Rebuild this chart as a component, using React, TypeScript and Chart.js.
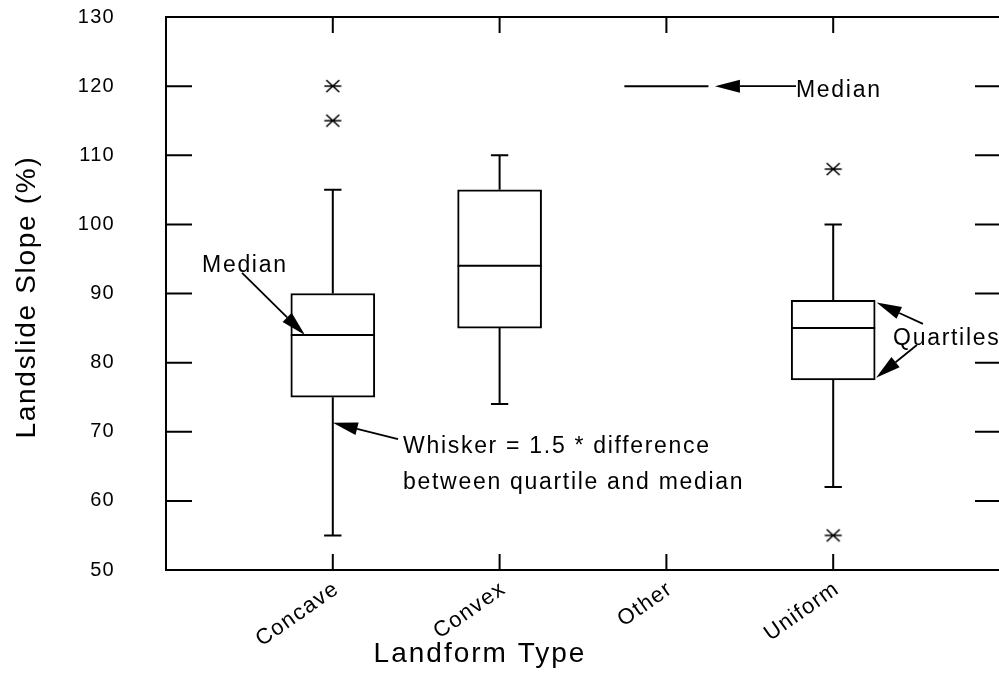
import React, { useEffect, useRef } from 'react';
import { Chart, registerables } from 'chart.js';

Chart.register(...registerables);

const FONT = '"Liberation Sans", Arial, Helvetica, sans-serif';

// ---- data ----
const categories = ['Concave', 'Convex', 'Other', 'Uniform'];
const whiskerLow: (number | null)[] = [55, 74, null, 62];
const quartile1: (number | null)[] = [75, 85, null, 77.5];
const medians: (number | null)[] = [84, 94, 120, 85];
const quartile3: (number | null)[] = [90, 105, null, 89];
const whiskerHigh: (number | null)[] = [105, 110, null, 100];

const outlierCategory = ['Concave', 'Concave', 'Uniform', 'Uniform'];
const outlierValue = [120, 115, 108, 55];

const yMin = 50;
const yMax = 130;
const yStep = 10;

// annotation texts (x in category index units, y in data units; baseline)
const noteTexts = ['Median', 'Whisker = 1.5 * difference', 'between quartile and median', 'Median', 'Quartiles'];
const noteX = [0.216, 1.421, 1.421, 3.777, 4.359];
const noteY = [93.1, 66.93, 61.72, 118.4, 82.55];

// arrows (from -> tip)
const arrowFromX = [0.456, 1.391, 3.777, 4.538, 4.502];
const arrowFromY = [92.97, 68.95, 120, 85.6, 82.55];
const arrowToX = [0.833, 1.0, 3.291, 4.26, 4.257];
const arrowToY = [84.0, 71.3, 120, 88.7, 77.8];

const xLabels = ['', ...categories, ''];

function makeStar(): HTMLCanvasElement {
  const c = document.createElement('canvas');
  c.width = 20;
  c.height = 16;
  const g = c.getContext('2d')!;
  g.strokeStyle = '#000';
  g.lineWidth = 1.6;
  g.lineCap = 'butt';
  g.beginPath();
  g.moveTo(1.5, 8);
  g.lineTo(18.5, 8);
  g.moveTo(3.5, 2);
  g.lineTo(16.5, 14);
  g.moveTo(3.5, 14);
  g.lineTo(16.5, 2);
  g.stroke();
  return c;
}

const spacingPlugin = {
  id: 'spacing',
  beforeDraw(chart: any) {
    (chart.ctx as any).letterSpacing = '1.3px';
  },
};

const boxPlugin = {
  id: 'boxExtras',
  afterDatasetsDraw(chart: any) {
    const { ctx, scales } = chart;
    const x = scales.x;
    const y = scales.y;
    ctx.save();
    ctx.strokeStyle = '#000';
    ctx.lineWidth = 2;
    categories.forEach((cat, k) => {
      const i = k + 1;
      const cx = x.getPixelForValue(i);
      const left = x.getPixelForValue(i - 0.252);
      const right = x.getPixelForValue(i + 0.252);
      const capL = x.getPixelForValue(i - 0.052);
      const capR = x.getPixelForValue(i + 0.052);
      const med = medians[k];
      if (med != null) {
        ctx.beginPath();
        ctx.moveTo(left, y.getPixelForValue(med));
        ctx.lineTo(right, y.getPixelForValue(med));
        ctx.stroke();
      }
      const q1 = quartile1[k];
      const q3 = quartile3[k];
      const lo = whiskerLow[k];
      const hi = whiskerHigh[k];
      if (q3 != null && hi != null) {
        const yh = y.getPixelForValue(hi);
        ctx.beginPath();
        ctx.moveTo(cx, y.getPixelForValue(q3));
        ctx.lineTo(cx, yh);
        ctx.moveTo(capL, yh);
        ctx.lineTo(capR, yh);
        ctx.stroke();
      }
      if (q1 != null && lo != null) {
        const yl = y.getPixelForValue(lo);
        ctx.beginPath();
        ctx.moveTo(cx, y.getPixelForValue(q1));
        ctx.lineTo(cx, yl);
        ctx.moveTo(capL, yl);
        ctx.lineTo(capR, yl);
        ctx.stroke();
      }
    });
    ctx.restore();
  },
  afterDraw(chart: any) {
    const { ctx, scales, chartArea, width } = chart;
    const x = scales.x;
    const y = scales.y;
    ctx.save();
    ctx.strokeStyle = '#000';
    ctx.fillStyle = '#000';
    ctx.lineWidth = 2;
    // frame
    ctx.beginPath();
    ctx.moveTo(width, chartArea.top);
    ctx.lineTo(chartArea.left, chartArea.top);
    ctx.lineTo(chartArea.left, chartArea.bottom);
    ctx.lineTo(width, chartArea.bottom);
    ctx.moveTo(chartArea.right, chartArea.top);
    ctx.lineTo(chartArea.right, chartArea.bottom);
    ctx.stroke();
    // inner y ticks, left and right
    ctx.beginPath();
    y.ticks.forEach((t: any) => {
      const py = y.getPixelForValue(t.value);
      ctx.moveTo(chartArea.left, py);
      ctx.lineTo(chartArea.left + 26, py);
      ctx.moveTo(chartArea.right, py);
      ctx.lineTo(chartArea.right - 25, py);
    });
    // inner x ticks, top and bottom
    categories.forEach((_c, k) => {
      const px = x.getPixelForValue(k + 1);
      ctx.moveTo(px, chartArea.top);
      ctx.lineTo(px, chartArea.top + 16);
      ctx.moveTo(px, chartArea.bottom);
      ctx.lineTo(px, chartArea.bottom - 16);
    });
    ctx.stroke();

    // arrows
    ctx.lineWidth = 1.8;
    arrowFromX.forEach((fx, k) => {
      const x1 = x.getPixelForValue(fx);
      const y1 = y.getPixelForValue(arrowFromY[k]);
      const x2 = x.getPixelForValue(arrowToX[k]);
      const y2 = y.getPixelForValue(arrowToY[k]);
      const ang = Math.atan2(y2 - y1, x2 - x1);
      const L = 25;
      const W = 6.5;
      const bx = x2 - L * Math.cos(ang);
      const by = y2 - L * Math.sin(ang);
      ctx.beginPath();
      ctx.moveTo(x1, y1);
      ctx.lineTo(bx, by);
      ctx.stroke();
      ctx.beginPath();
      ctx.moveTo(x2, y2);
      ctx.lineTo(bx + W * Math.sin(ang), by - W * Math.cos(ang));
      ctx.lineTo(bx - W * Math.sin(ang), by + W * Math.cos(ang));
      ctx.closePath();
      ctx.fill();
    });

    // annotation texts
    (ctx as any).letterSpacing = '1.7px';
    ctx.font = `23px ${FONT}`;
    ctx.textAlign = 'left';
    ctx.textBaseline = 'alphabetic';
    noteTexts.forEach((txt, k) => {
      ctx.fillText(txt, x.getPixelForValue(noteX[k]), y.getPixelForValue(noteY[k]));
    });

    // axis titles
    (ctx as any).letterSpacing = '2px';
    ctx.font = `28px ${FONT}`;
    ctx.textAlign = 'center';
    ctx.textBaseline = 'middle';
    ctx.fillText('Landform Type', 480, 654);
    ctx.save();
    ctx.translate(27, 297);
    ctx.rotate(-Math.PI / 2);
    (ctx as any).letterSpacing = '1.7px';
    ctx.fillText('Landslide Slope (%)', 0, 0);
    ctx.restore();
    ctx.restore();
  },
};

export default function App() {
  const ref = useRef<HTMLCanvasElement>(null);
  useEffect(() => {
    document.body.style.margin = '0';
    const canvas = ref.current!;
    const star = makeStar();
    const boxes = xLabels.map((_l, i) => {
      const k = i - 1;
      if (k < 0 || k >= categories.length) return null;
      const a = quartile1[k];
      const b = quartile3[k];
      return a != null && b != null ? [a, b] : null;
    });
    const points = outlierCategory.map((c, k) => ({ x: c, y: outlierValue[k] }));
    const chart = new Chart(canvas, {
      type: 'bar',
      data: {
        labels: xLabels,
        datasets: [
          {
            type: 'bar',
            data: boxes as any,
            backgroundColor: '#ffffff',
            borderColor: '#000000',
            borderWidth: 2,
            borderSkipped: false,
            barThickness: 84,
          } as any,
          {
            type: 'scatter',
            data: points as any,
            pointStyle: star as any,
            pointRadius: 8,
            showLine: false,
          } as any,
        ],
      },
      options: {
        responsive: false,
        animation: false,
        events: [],
        layout: { autoPadding: false, padding: { left: 0, top: 17, right: 10, bottom: 0 } },
        plugins: {
          legend: { display: false },
          tooltip: { enabled: false },
          title: { display: false },
        },
        scales: {
          x: {
            type: 'category',
            offset: false,
            grid: { display: false, drawTicks: false },
            border: { display: false },
            ticks: {
              autoSkip: false,
              maxRotation: 35,
              minRotation: 35,
              padding: 6,
              labelOffset: 4,
              color: '#000',
              font: { family: FONT, size: 22 },
            },
            afterFit: (s: any) => {
              s.height = 130;
              s.paddingLeft = 0;
              s.paddingRight = 0;
              s.paddingTop = 0;
              s.paddingBottom = 0;
            },
          },
          y: {
            type: 'linear',
            min: yMin,
            max: yMax,
            grid: { display: false, drawTicks: false },
            border: { display: false },
            ticks: {
              stepSize: yStep,
              padding: 51,
              color: '#000',
              font: { family: FONT, size: 20 },
            },
            afterFit: (s: any) => {
              s.width = 166;
              s.paddingLeft = 0;
              s.paddingRight = 0;
              s.paddingTop = 0;
              s.paddingBottom = 0;
            },
          },
        },
      } as any,
      plugins: [spacingPlugin, boxPlugin],
    });
    return () => chart.destroy();
  }, []);
  return (
    <div
      style={{
        position: 'fixed',
        left: 0,
        top: 0,
        width: 999,
        height: 700,
        overflow: 'hidden',
        background: '#fff',
      }}
    >
      <canvas ref={ref} width={1010} height={700} style={{ display: 'block' }} />
    </div>
  );
}
